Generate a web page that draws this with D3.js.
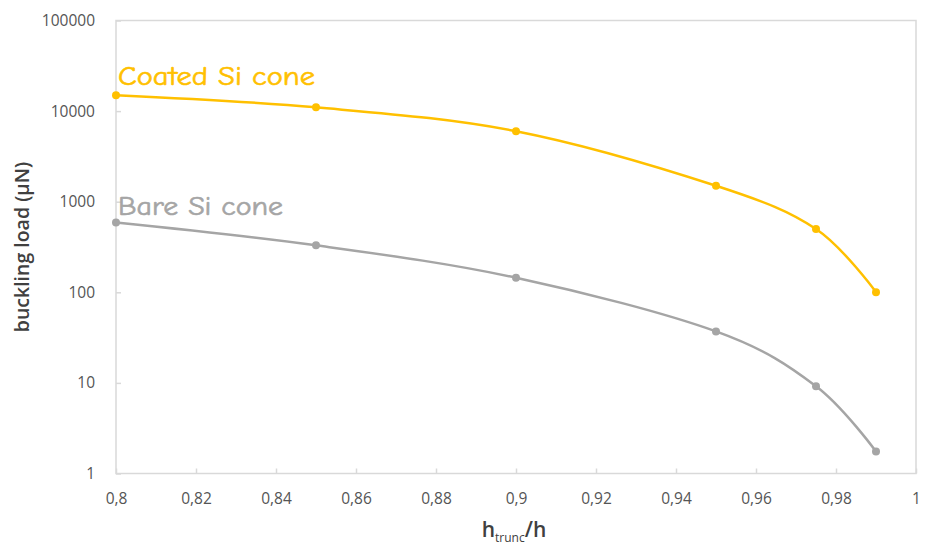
<!DOCTYPE html>
<html>
<head>
<meta charset="utf-8">
<script src="https://cdn.jsdelivr.net/npm/d3@7"></script>
<style>
  html, body { margin: 0; padding: 0; background: #fff; }
  svg { display: block; }
</style>
</head>
<body>
<svg id="chart" width="928" height="548"></svg>
<script>
// Truncation ratio h_trunc/h for each simulated cone
const ratios = [0.8, 0.85, 0.9, 0.95, 0.975, 0.99];
// Buckling load in µN
const coatedLoad = [15000, 11000, 6000, 1500, 500, 100];
const bareLoad = [590, 330, 145, 37, 9.2, 1.75];
// Axis ticks
const xTicks = [0.8, 0.82, 0.84, 0.86, 0.88, 0.9, 0.92, 0.94, 0.96, 0.98, 1];
const yTicks = [1, 10, 100, 1000, 10000, 100000];

const series = [
  { name: "Coated Si cone", values: coatedLoad, color: "#FFC000", labelY: 85, labelW: 197 },
  { name: "Bare Si cone", values: bareLoad, color: "#A5A5A5", labelY: 215, labelW: 165 }
];

const svg = d3.select("#chart");
const m = { left: 116, right: 12, top: 20.5, bottom: 74.5 };
const W = 928, H = 548;
const iw = W - m.left - m.right, ih = H - m.top - m.bottom;

const x = d3.scaleLinear().domain([0.8, 1]).range([0, iw]);
const y = d3.scaleLog().domain([1, 100000]).range([ih, 0]);

const g = svg.append("g").attr("transform", `translate(${m.left},${m.top})`);

const axisColor = "#d9d9d9";
const tickText = "#555555";
const fmtX = d => String(d).replace(".", ",");

// Frame around plot area
g.append("rect")
  .attr("x", 0).attr("y", 0).attr("width", iw).attr("height", ih)
  .attr("fill", "none").attr("stroke", axisColor).attr("stroke-width", 1.5);

// X axis: inner tick marks, labels below
const xa = g.append("g").attr("transform", `translate(0,${ih})`)
  .call(d3.axisBottom(x).tickValues(xTicks).tickFormat(fmtX).tickSizeInner(-5).tickSizeOuter(0).tickPadding(19));
xa.select(".domain").remove();
xa.selectAll(".tick line").attr("stroke", axisColor).attr("stroke-width", 1.5);
xa.selectAll(".tick text")
  .attr("fill", tickText).attr("font-family", "'Open Sans', sans-serif").attr("font-size", 15.5);

// Y axis: inner tick marks, labels to the left
const ya = g.append("g")
  .call(d3.axisLeft(y).tickValues(yTicks).tickFormat(d3.format("d")).tickSizeInner(-5).tickSizeOuter(0).tickPadding(21));
ya.select(".domain").remove();
ya.selectAll(".tick line").attr("stroke", axisColor).attr("stroke-width", 1.5);
ya.selectAll(".tick text")
  .attr("fill", tickText).attr("font-family", "'Open Sans', sans-serif").attr("font-size", 15.5);

// Smoothed curves with point markers
const line = d3.line()
  .x((d, i) => x(ratios[i]))
  .y(d => y(d))
  .curve(d3.curveCatmullRom.alpha(0));

series.forEach(s => {
  g.append("path")
    .datum(s.values)
    .attr("d", line)
    .attr("fill", "none")
    .attr("stroke", s.color)
    .attr("stroke-width", 2.5);
  g.selectAll(null)
    .data(s.values)
    .enter().append("circle")
    .attr("cx", (d, i) => x(ratios[i]))
    .attr("cy", d => y(d))
    .attr("r", 4)
    .attr("fill", s.color);
  svg.append("text")
    .attr("x", 118).attr("y", s.labelY)
    .attr("fill", s.color)
    .attr("stroke", s.color)
    .attr("stroke-width", 0.6)
    .attr("font-family", "'Comic Sans MS', 'Comic Neue', cursive")
    .attr("font-size", 26)
    .attr("textLength", s.labelW)
    .attr("lengthAdjust", "spacingAndGlyphs")
    .text(s.name);
});

// Axis titles
svg.append("text")
  .attr("transform", `translate(29,${m.top + ih / 2}) rotate(-90)`)
  .attr("text-anchor", "middle")
  .attr("fill", "#404040")
  .attr("font-family", "'Open Sans', sans-serif")
  .attr("font-weight", 600)
  .attr("font-size", 19.5)
  .text("buckling load (µN)");

const xt = svg.append("text")
  .attr("x", m.left + iw / 2 - 2).attr("y", 537)
  .attr("text-anchor", "middle")
  .attr("fill", "#404040")
  .attr("font-family", "'Open Sans', sans-serif")
  .attr("font-weight", 600)
  .attr("font-size", 21);
xt.append("tspan").text("h");
xt.append("tspan").attr("dy", 5).attr("font-size", 12).attr("font-weight", 400).text("trunc");
xt.append("tspan").attr("dy", -5).text("/h");
</script>
</body>
</html>
